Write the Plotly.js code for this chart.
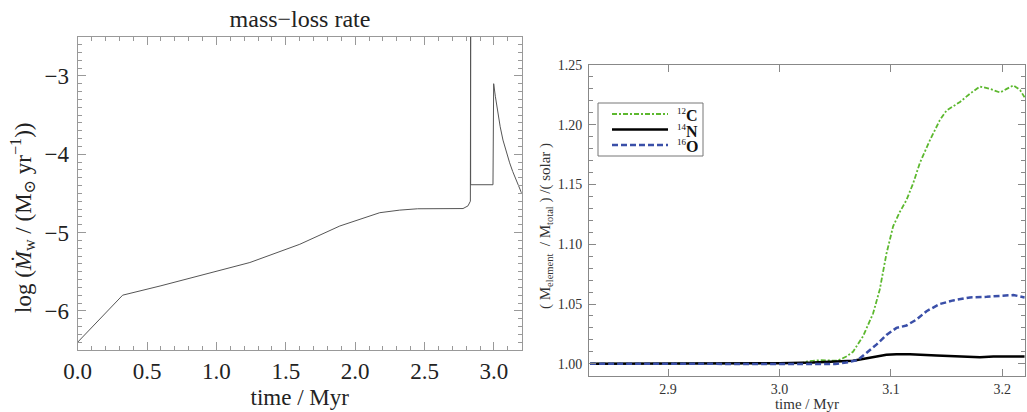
<!DOCTYPE html>
<html>
<head>
<meta charset="utf-8">
<script src="https://cdn.plot.ly/plotly-3.0.1.min.js"></script>
<style>html,body{margin:0;padding:0;background:#fff;}#chart{width:1027px;height:412px;}</style>
</head>
<body>
<div id="chart"></div>
<script>
// Left panel: mass-loss rate
const timeLeft = [0, 0.324, 0.6, 0.881, 1.241, 1.601, 1.889, 2.177, 2.321, 2.45, 2.6, 2.777, 2.813, 2.83, 2.832, 2.832, 2.993, 2.998, 3.01, 3.02, 3.029, 3.045, 3.065, 3.09, 3.113, 3.135, 3.16, 3.18, 3.2];
const logMdot = [-6.4, -5.8, -5.68, -5.553, -5.383, -5.15, -4.917, -4.747, -4.714, -4.697, -4.694, -4.694, -4.66, -4.6, -2.5, -4.39, -4.39, -3.1, -3.26, -3.38, -3.48, -3.65, -3.82, -3.98, -4.11, -4.22, -4.33, -4.42, -4.5];

// Right panel: abundance ratios
const timeC = [2.83, 2.95, 3.0, 3.02, 3.025, 3.037, 3.052, 3.06, 3.066, 3.075, 3.084, 3.09, 3.096, 3.102, 3.108, 3.114, 3.12, 3.126, 3.135, 3.144, 3.15, 3.162, 3.171, 3.18, 3.189, 3.198, 3.204, 3.21, 3.216, 3.22];
const ratioC = [1.0, 1.0, 1.0, 1.0005, 1.002, 1.003, 1.0025, 1.006, 1.010, 1.023, 1.042, 1.062, 1.092, 1.115, 1.127, 1.137, 1.151, 1.168, 1.187, 1.204, 1.212, 1.219, 1.226, 1.232, 1.230, 1.227, 1.230, 1.233, 1.229, 1.223];
const timeN = [2.83, 2.95, 3.0, 3.03, 3.06, 3.066, 3.081, 3.096, 3.105, 3.117, 3.141, 3.171, 3.18, 3.192, 3.22];
const ratioN = [1.0, 1.0, 1.0005, 1.001, 1.002, 1.0025, 1.005, 1.0075, 1.008, 1.008, 1.007, 1.006, 1.0055, 1.006, 1.006];
const timeO = [2.83, 2.95, 3.0, 3.03, 3.05, 3.06, 3.07, 3.078, 3.087, 3.096, 3.105, 3.114, 3.123, 3.132, 3.144, 3.156, 3.171, 3.186, 3.198, 3.21, 3.22];
const ratioO = [1.0, 1.0, 0.9995, 0.9995, 0.9998, 1.001, 1.003, 1.009, 1.016, 1.024, 1.030, 1.032, 1.037, 1.044, 1.050, 1.053, 1.0555, 1.056, 1.0566, 1.0575, 1.0555];

// Legend labels
const isoMass = ['12', '14', '16'];
const isoElem = ['C', 'N', 'O'];

const serif = '"Liberation Serif", "Times New Roman", Times, "DejaVu Serif", serif';
const W = 1027, H = 412;
const px = v => v / W, py = v => 1 - v / H;

const styles = [
  {color: '#5cb82e', width: 1.8, dash: '5px,2px,2px,2px'},
  {color: '#000', width: 2.5, dash: 'solid'},
  {color: '#3a4fa8', width: 2.5, dash: '6px,3px'}
];

const traces = [
  {x: timeLeft, y: logMdot, xaxis: 'x', yaxis: 'y', mode: 'lines', line: {color: '#555', width: 1}, showlegend: false},
  {x: timeC, y: ratioC, xaxis: 'x2', yaxis: 'y2', mode: 'lines', name: isoElem[0], line: styles[0], showlegend: false},
  {x: timeN, y: ratioN, xaxis: 'x2', yaxis: 'y2', mode: 'lines', name: isoElem[1], line: styles[1], showlegend: false},
  {x: timeO, y: ratioO, xaxis: 'x2', yaxis: 'y2', mode: 'lines', name: isoElem[2], line: styles[2], showlegend: false}
];

// Hand-built legend box (key only, not data)
const shapes = [
  {type: 'rect', xref: 'paper', yref: 'paper', x0: px(598), x1: px(703), y0: py(156), y1: py(103),
   line: {color: '#777', width: 1}, fillcolor: '#fff', layer: 'above'}
];
const annotations = [
  {text: 'log (<i>Ṁ</i><sub>w</sub> / (M<sub>⊙</sub> yr<sup>−1</sup>))', xref: 'paper', yref: 'paper',
   x: px(22), y: py(218), xanchor: 'center', yanchor: 'middle', textangle: -90, showarrow: false,
   font: {family: serif, size: 23, color: '#222'}},
  {text: '( M<sub>element</sub>  / M<sub>total</sub> ) /( solar )', xref: 'paper', yref: 'paper',
   x: px(546), y: py(226), xanchor: 'center', yanchor: 'middle', textangle: -90, showarrow: false,
   font: {family: serif, size: 15, color: '#333'}}
];
const rowY = [114, 129.5, 145];
for (let i = 0; i < 3; i++) {
  shapes.push({type: 'line', xref: 'paper', yref: 'paper', x0: px(612), x1: px(668), y0: py(rowY[i]), y1: py(rowY[i]),
    line: styles[i], layer: 'above'});
  annotations.push({text: '<sup><span style="font-size:9px">' + isoMass[i] + '</span></sup><b>' + isoElem[i] + '</b>',
    xref: 'paper', yref: 'paper', x: px(676), y: py(rowY[i] + 1), xanchor: 'left', yanchor: 'middle', showarrow: false,
    height: 14, valign: 'middle', borderpad: 0, font: {family: serif, size: 16, color: '#111'}});
}

const layout = {
  width: W, height: H,
  margin: {l: 0, r: 0, t: 0, b: 0},
  paper_bgcolor: '#fff', plot_bgcolor: '#fff',
  font: {family: serif, color: '#222'},
  showlegend: false,
  title: {text: 'mass−loss rate', x: px(300), xanchor: 'center', xref: 'container', y: py(19), yanchor: 'middle', yref: 'container', font: {family: serif, size: 24, color: '#222'}},
  xaxis: {
    domain: [px(77.7), px(521.7)], range: [0, 3.2], anchor: 'y',
    showline: true, linecolor: '#999', linewidth: 1, mirror: 'ticks',
    ticks: 'inside', ticklen: 8, tickcolor: '#999', dtick: 0.5, tick0: 0, tickformat: '.1f',
    minor: {dtick: 0.1, ticks: 'inside', ticklen: 4, tickcolor: '#999'},
    showgrid: false, zeroline: false,
    tickfont: {family: serif, size: 23, color: '#222'},
    title: {text: 'time / Myr', font: {family: serif, size: 23, color: '#222'}, standoff: 6}
  },
  yaxis: {
    domain: [py(350), py(36.7)], range: [-6.5, -2.5], anchor: 'x',
    showline: true, linecolor: '#999', linewidth: 1, mirror: 'ticks',
    ticks: 'inside', ticklen: 8, tickcolor: '#999', dtick: 1, tick0: 0,
    minor: {dtick: 0.1, ticks: 'inside', ticklen: 4, tickcolor: '#999'},
    showgrid: false, zeroline: false, ticklabelstandoff: 3,
    tickfont: {family: serif, size: 23, color: '#222'}
  },
  xaxis2: {
    domain: [px(589), px(1025)], range: [2.829, 3.2204], anchor: 'y2',
    showline: true, linecolor: '#888', linewidth: 1, mirror: 'ticks',
    ticks: 'inside', ticklen: 7, tickcolor: '#888', dtick: 0.1, tick0: 0, tickformat: '.1f',
    showgrid: false, zeroline: false,
    tickfont: {family: serif, size: 14, color: '#333'},
    title: {text: 'time / Myr', font: {family: serif, size: 15, color: '#333'}, standoff: 2}
  },
  yaxis2: {
    domain: [py(375.7), py(65)], range: [0.99, 1.25], anchor: 'x2',
    showline: true, linecolor: '#888', linewidth: 1, mirror: 'ticks',
    ticks: 'inside', ticklen: 7, tickcolor: '#888', dtick: 0.05, tick0: 0, tickformat: '.2f',
    minor: {dtick: 0.01, ticks: 'inside', ticklen: 4, tickcolor: '#888'},
    showgrid: false, zeroline: false, ticklabelstandoff: 3,
    tickfont: {family: serif, size: 14, color: '#333'}
  },
  shapes: shapes,
  annotations: annotations
};

Plotly.newPlot('chart', traces, layout, {displayModeBar: false, staticPlot: true});
</script>
</body>
</html>
